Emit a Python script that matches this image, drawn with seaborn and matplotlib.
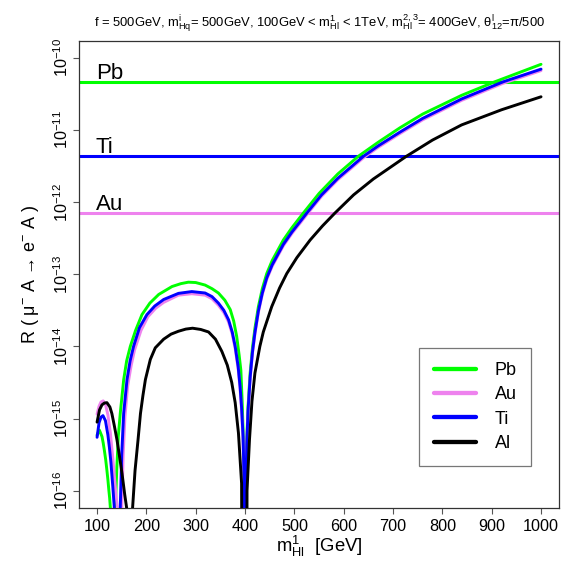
import numpy as np
import pandas as pd
import matplotlib
matplotlib.use("Agg")
import matplotlib.pyplot as plt
import seaborn as sns

# ---------------- data ----------------
# values are log10(R); ZERO marks the exact cancellation points (R -> 0)
ZERO = -30.0

m_pb = [100, 104.7, 110, 112.5, 115, 117.5, 120, 122, 124, 125.5,
        127, 131.5, 137, 140, 143, 147, 154, 160, 167.4, 178,
        191, 207, 225, 252, 270, 285, 300, 319, 333, 346,
        359, 370, 377, 383, 388, 391.5, 394, 396, 398, 400,
        402, 403.6, 406, 410.3, 415, 420, 427, 435, 444, 455,
        477.7, 495, 518, 550, 588, 629.6, 670, 714, 760, 839,
        906, 1000]
lr_pb = [-15.23, -15.16, -15.25, -15.34, -15.45, -15.57, -15.72, -15.85, -16.0, -16.1,
         -16.24, ZERO, -16.24, -15.7, -15.25, -14.93, -14.46, -14.2, -14.0, -13.78,
         -13.56, -13.40, -13.28, -13.17, -13.13, -13.11, -13.115, -13.15, -13.2, -13.26,
         -13.36, -13.49, -13.65, -13.86, -14.12, -14.33, -14.74, -15.16, -15.76, ZERO,
         -15.8, -15.29, -14.84, -14.37, -14.02, -13.75, -13.45, -13.20, -12.99, -12.81,
         -12.525, -12.355, -12.153, -11.88, -11.61, -11.365, -11.17, -10.97, -10.78, -10.52,
         -10.333, -10.09]

m_au = [100, 104, 108, 112.5, 117, 122, 127, 132, 137, 141,
        145.5, 150, 153, 156.5, 162, 169, 176, 189, 203, 219,
        235, 265, 292, 319, 333, 346, 357, 366.5, 374, 380,
        386, 390, 393, 396, 398, 400, 402, 403.6, 406, 410.3,
        415, 420, 427, 435, 444, 455, 477.7, 495, 525, 555,
        588, 640, 670, 714, 760, 839, 923, 1000]
lr_au = [-14.94, -14.83, -14.77, -14.755, -14.8, -14.95, -15.2, -15.55, -15.95, -16.24,
         ZERO, -16.24, -15.5, -14.98, -14.55, -14.27, -14.05, -13.78, -13.59, -13.47,
         -13.39, -13.29, -13.27, -13.29, -13.34, -13.43, -13.53, -13.66, -13.83, -14.03,
         -14.31, -14.6, -14.89, -15.3, -15.9, ZERO, -15.87, -15.36, -14.92, -14.45,
         -14.1, -13.83, -13.53, -13.28, -13.07, -12.89, -12.605, -12.435, -12.175, -11.92,
         -11.69, -11.385, -11.24, -11.05, -10.86, -10.59, -10.353, -10.177]

m_ti = [100, 104, 108, 112, 117, 122, 125, 128, 132, 135,
        141, 147, 150, 153.9, 160.7, 167, 174, 186, 201, 217,
        235, 265, 292, 319, 333, 346, 357, 366.5, 374, 380,
        386, 390, 393, 396, 398, 400, 402, 403.6, 406, 410.3,
        415, 420, 427, 435, 444, 455, 477.7, 495, 525, 555,
        588, 640, 670, 714, 760, 839, 923, 1000]
lr_ti = [-15.26, -15.06, -14.98, -14.96, -15.03, -15.23, -15.4, -15.6, -15.95, -16.24,
         ZERO, -16.24, -15.5, -14.93, -14.46, -14.2, -14.0, -13.74, -13.56, -13.44,
         -13.35, -13.265, -13.24, -13.26, -13.31, -13.40, -13.5, -13.63, -13.8, -14.0,
         -14.28, -14.56, -14.85, -15.25, -15.85, ZERO, -15.85, -15.34, -14.9, -14.43,
         -14.08, -13.81, -13.51, -13.26, -13.05, -12.87, -12.585, -12.415, -12.153, -11.9,
         -11.67, -11.365, -11.22, -11.03, -10.84, -10.57, -10.333, -10.157]

m_al = [100, 105, 110, 115, 120, 126, 130, 135, 140.5, 145,
        150.6, 156, 160, 166, 172, 177, 183, 188, 193, 198,
        208, 218, 235, 250, 265, 280, 293.6, 310, 326, 340,
        353, 364, 373, 380, 386.6, 393, 400, 404, 409, 414,
        420, 430, 437, 454, 470, 484.6, 505, 532, 557, 582,
        620, 660, 727, 780, 839, 920, 1000]
lr_al = [-15.05, -14.88, -14.81, -14.785, -14.78, -14.84, -14.93, -15.1, -15.3, -15.5,
         -15.76, -16.05, -16.24, ZERO, -16.24, -15.72, -15.30, -14.93, -14.68, -14.46,
         -14.18, -14.02, -13.90, -13.83, -13.79, -13.76, -13.748, -13.765, -13.80, -13.90,
         -14.07, -14.26, -14.5, -14.78, -15.2, -15.9, ZERO, -16.0, -15.29, -14.76,
         -14.37, -14.0, -13.80, -13.45, -13.19, -12.99, -12.77, -12.525, -12.33, -12.153,
         -11.9, -11.68, -11.365, -11.14, -10.93, -10.72, -10.54]

series_names = ["Pb", "Au", "Ti", "Al"]
series_colors = ["#00FF00", "#EE82EE", "#0000FF", "#000000"]

limit_names = ["Pb", "Ti", "Au"]
limit_values = [4.6e-11, 4.3e-12, 7.0e-13]
limit_colors = ["#00FF00", "#0000FF", "#EE82EE"]

x_ticks = [100, 200, 300, 400, 500, 600, 700, 800, 900, 1000]
y_exponents = [-16, -15, -14, -13, -12, -11, -10]

title_text = (r"f = 500GeV, m$^{i}_{Hq}$= 500GeV, 100GeV < m$^{1}_{Hl}$ < 1TeV, "
              r"m$^{2,3}_{Hl}$= 400GeV, θ$^{l}_{12}$=π/500")
x_label = r"m$^{1}_{Hl}$  [GeV]"
y_label = r"R ( μ$^{-}$ A → e$^{-}$ A )"

# ---------------- build table ----------------
frames = []
for name, mm, lr in zip(series_names, [m_pb, m_au, m_ti, m_al], [lr_pb, lr_au, lr_ti, lr_al]):
    frames.append(pd.DataFrame({"m": mm, "R": 10.0 ** np.array(lr), "nucleus": name}))
df = pd.concat(frames, ignore_index=True)

# ---------------- style ----------------
sns.set_style("ticks")
plt.rcParams["font.family"] = ["Liberation Sans", "DejaVu Sans"]
plt.rcParams["mathtext.default"] = "regular"
plt.rcParams["axes.linewidth"] = 0.9
for key in ["text.color", "axes.labelcolor", "xtick.labelcolor", "ytick.labelcolor"]:
    plt.rcParams[key] = "black"

fig = plt.figure(figsize=(5.75, 5.74), dpi=100)
ax = fig.add_axes([79.3 / 575, 1 - 508 / 574, (558.8 - 79.3) / 575, 467.5 / 574])
ax.set_yscale("log")

for name, val, col in zip(limit_names, limit_values, limit_colors):
    ax.axhline(val, color=col, lw=2.2, zorder=2)
    ax.annotate(name, xy=(100, val), xytext=(-1, 2.3), textcoords="offset points",
                ha="left", va="baseline", fontsize=16, color="black")

for name, col in zip(series_names, series_colors):
    sns.lineplot(data=df[df["nucleus"] == name], x="m", y="R", color=col, lw=2.1,
                 label=name, ax=ax, estimator=None, zorder=3)

ax.set_xlim(64, 1036)
ax.set_ylim(10 ** -16.24, 10 ** -9.76)

ax.set_xticks(x_ticks)
ax.set_xticklabels([str(t) for t in x_ticks], fontsize=11.7)
ax.set_yticks([10.0 ** e for e in y_exponents])
ax.set_yticklabels([r"10$^{%d}$" % e for e in y_exponents], fontsize=11.7,
                   rotation=90, va="center")
ax.yaxis.set_minor_locator(matplotlib.ticker.NullLocator())
ax.xaxis.set_minor_locator(matplotlib.ticker.NullLocator())
ax.tick_params(axis="x", length=4.3, width=0.8, color="#555555", pad=3.5, labelcolor="black")
ax.tick_params(axis="y", length=4.6, width=0.8, color="#555555", pad=1.5, labelcolor="black")
for sp in ax.spines.values():
    sp.set_visible(True)
    sp.set_color("#333333")

ax.set_title(title_text, fontsize=9.4, y=1.0295, pad=0, color="black")
ax.set_xlabel(x_label, fontsize=13.3, va="baseline", color="black")
ax.xaxis.set_label_coords(0.5, -0.0935)
ax.set_ylabel(y_label, fontsize=13, va="baseline", color="black")
ax.yaxis.set_label_coords(-0.0924, 0.5)

leg = ax.legend(loc="center", bbox_to_anchor=(0.826, 0.216), fontsize=13,
                frameon=True, fancybox=False, borderpad=0.8, labelspacing=0.4,
                handlelength=2.36, handletextpad=1.02)
leg.get_frame().set_edgecolor("#555555")
leg.get_frame().set_linewidth(0.9)
for ln in leg.get_lines():
    ln.set_linewidth(3.1)
for t in leg.get_texts():
    t.set_color("black")

fig.savefig("out.png", dpi=100)
